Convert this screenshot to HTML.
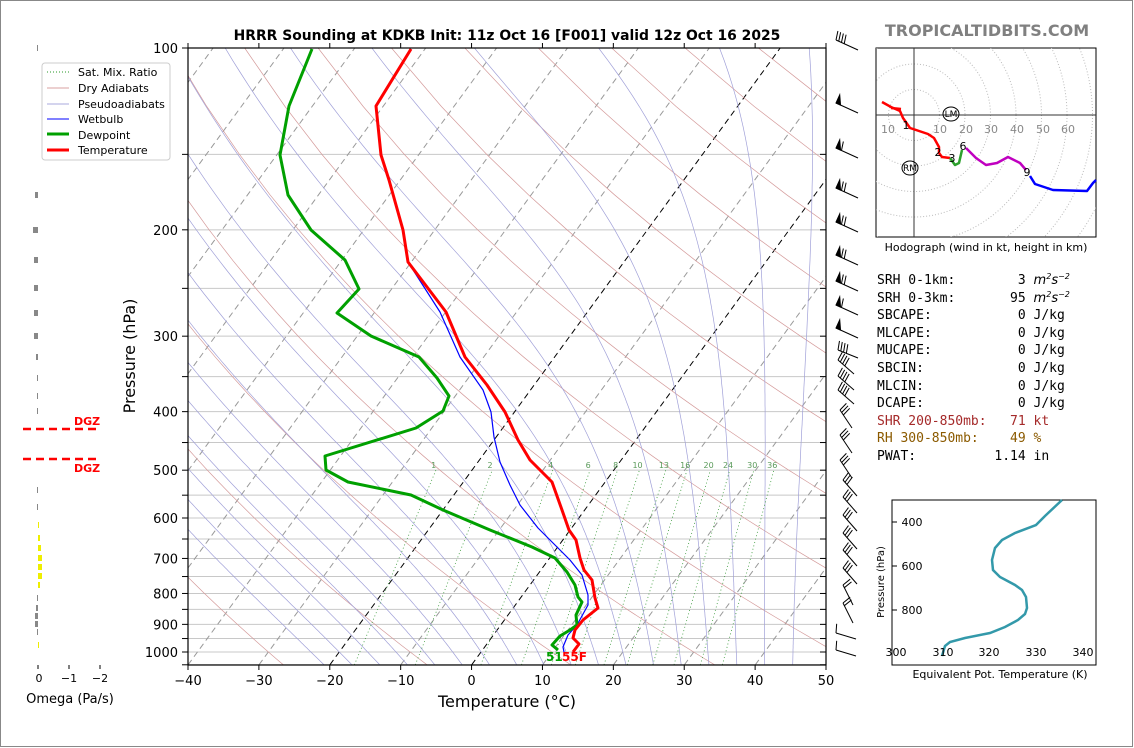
<!DOCTYPE html>
<html><head><meta charset="utf-8">
<style>
body{margin:0;background:#fff;}
#wrap{position:relative;width:1134px;height:748px;overflow:hidden;font-family:"Liberation Sans","DejaVu Sans",sans-serif;}
svg text{font-family:"DejaVu Sans","Liberation Sans",sans-serif;}
#tbl{position:absolute;left:877px;top:272px;font-family:"DejaVu Sans Mono","Liberation Mono",monospace;font-size:13px;line-height:17.6px;white-space:pre;color:#000;}
#tbl i{font-family:"DejaVu Sans",sans-serif;font-style:italic;}
#tbl sup{font-size:8px;line-height:0;vertical-align:5px;}
</style></head><body>
<div id="wrap">
<svg id="s" width="1134" height="748" viewBox="0 0 1134 748" xmlns="http://www.w3.org/2000/svg">
<rect x="0.5" y="0.5" width="1132" height="746" fill="#fff" stroke="#888"/>
<defs><clipPath id="cp"><rect x="188" y="48" width="638" height="617"/></clipPath>
<clipPath id="hc"><rect x="876" y="48" width="220" height="189"/></clipPath></defs>
<g id="bg" clip-path="url(#cp)"></g>
<g id="prof" clip-path="url(#cp)" fill="none" stroke-linejoin="round">
<polyline stroke="#0000ff" stroke-width="1.2" points="411,49 376,106 381,155 389,180 403,230 408,262 440,312 460,357 483,390 491,412 494,437 500,462 510,485 520,505 538,528 555,545 570,560 582,575 588,595 588,605 577,625 568,635 563,647 564,652"/>
<polyline stroke="#00a000" stroke-width="3" points="312,49 289,106 280,155 288,195 311,230 345,260 359,289 337,313 371,336 419,357 437,378 449,396 443,411 416,428 325,456 326,470 348,482 411,495 443,510 490,530 532,547 555,558 567,572 575,585 578,597 582,602 576,615 577,625 570,630 560,636 552,645 558,650"/>
<polyline stroke="#ff0000" stroke-width="3" points="411,49 376,106 381,155 389,180 403,230 408,262 446,312 465,357 487,385 505,412 518,440 530,460 552,482 562,510 569,530 576,540 580,558 584,570 592,580 595,598 598,608 583,620 575,630 573,638 579,644 573,652"/>
</g>
<text x="546" y="661" font-size="12" font-weight="bold" fill="#00a000">51</text>
<text x="562" y="661" font-size="12" font-weight="bold" fill="#ff0000">55F</text>
<rect x="188" y="48" width="638" height="617" fill="none" stroke="#000" stroke-width="1.2"/>
<g id="ax" font-size="13" fill="#000"></g>
<text x="507" y="40" font-size="13.9" font-weight="bold" text-anchor="middle">HRRR Sounding at KDKB Init: 11z Oct 16 [F001] valid 12z Oct 16 2025</text>
<text x="987" y="36" font-size="16" font-weight="bold" fill="#808080" text-anchor="middle">TROPICALTIDBITS.COM</text>
<text x="507" y="707" font-size="16" text-anchor="middle">Temperature (°C)</text>
<text transform="translate(135,356) rotate(-90)" font-size="16" text-anchor="middle">Pressure (hPa)</text>
<rect x="42" y="63" width="128" height="97" rx="3" fill="#fff" stroke="#ccc"/>
<g font-size="11">
<line x1="47" y1="72" x2="69" y2="72" stroke="#2a9a2a" stroke-dasharray="1,2"/><text x="78" y="76">Sat. Mix. Ratio</text>
<line x1="47" y1="88" x2="69" y2="88" stroke="#d8a0a0"/><text x="78" y="92">Dry Adiabats</text>
<line x1="47" y1="104" x2="69" y2="104" stroke="#a8a8dc"/><text x="78" y="108">Pseudoadiabats</text>
<line x1="47" y1="119" x2="69" y2="119" stroke="#0000ff"/><text x="78" y="123">Wetbulb</text>
<line x1="47" y1="134" x2="69" y2="134" stroke="#00a000" stroke-width="3"/><text x="78" y="139">Dewpoint</text>
<line x1="47" y1="150" x2="69" y2="150" stroke="#ff0000" stroke-width="3"/><text x="78" y="154">Temperature</text>
</g>
<g id="om"></g>
<line x1="23" y1="429" x2="99" y2="429" stroke="#ff0000" stroke-width="2.5" stroke-dasharray="8,5"/>
<line x1="23" y1="459" x2="99" y2="459" stroke="#ff0000" stroke-width="2.5" stroke-dasharray="8,5"/>
<text x="74" y="425" font-size="11" font-weight="bold" fill="#ff0000">DGZ</text>
<text x="74" y="472" font-size="11" font-weight="bold" fill="#ff0000">DGZ</text>
<g font-size="11" text-anchor="middle">
<line x1="38" y1="665" x2="38" y2="669" stroke="#000"/><line x1="69" y1="665" x2="69" y2="669" stroke="#000"/><line x1="100" y1="665" x2="100" y2="669" stroke="#000"/>
<text x="39" y="682">0</text><text x="69" y="682">−1</text><text x="100" y="682">−2</text>
</g>
<text x="70" y="703" font-size="13" text-anchor="middle">Omega (Pa/s)</text>
<g id="barbs" stroke="#000" stroke-width="1" fill="#000"></g>
<rect x="876" y="48" width="220" height="189" fill="#fff" stroke="#000"/>
<g id="hod" clip-path="url(#hc)"></g>
<line x1="876" y1="115" x2="1096" y2="115" stroke="#333"/>
<line x1="914" y1="48" x2="914" y2="237" stroke="#333"/>
<g font-size="11" fill="#888" text-anchor="middle">
<text x="888" y="133">10</text><text x="940" y="133">10</text><text x="966" y="133">20</text><text x="991" y="133">30</text><text x="1017" y="133">40</text><text x="1043" y="133">50</text><text x="1068" y="133">60</text>
</g>
<g fill="none" stroke-width="2.5" stroke-linejoin="round">
<polyline stroke="#ff0000" points="882,102 891,107 900,111 903,118 910,128 928,134 934,138 939,147 939,153 942,157 950,158"/>
<polyline stroke="#ff0000" points="891,108 901,109"/>
<polyline stroke="#2ca02c" points="950,158 955,165 959,163 962,150"/>
<polyline stroke="#c000c0" points="966,148 976,158 986,165 997,163 1008,157 1020,163 1026,170"/>
<polyline stroke="#0000ff" points="1030,176 1035,184 1053,190 1087,191 1093,183 1096,180"/>
</g>
<g font-size="11" text-anchor="middle">
<text x="906" y="129">1</text><text x="938" y="156">2</text><text x="952" y="162">3</text><text x="963" y="150">6</text><text x="1027" y="176">9</text>
<ellipse cx="951" cy="114" rx="8" ry="7" fill="none" stroke="#000"/><text x="951" y="117" font-size="9">LM</text>
<ellipse cx="910" cy="168" rx="8" ry="7" fill="none" stroke="#000"/><text x="910" y="171" font-size="9">RM</text>
</g>
<text x="986" y="251" font-size="11" text-anchor="middle">Hodograph (wind in kt, height in km)</text>
<rect x="892" y="500" width="204" height="165" fill="#fff" stroke="#000"/>
<polyline fill="none" stroke="#3399aa" stroke-width="2.5" points="1062,500 1045,516 1036,525 1015,533 1002,540 995,548 992,560 993,570 1000,577 1015,585 1022,590 1026,597 1027,608 1025,614 1018,620 1005,627 990,633 965,638 950,642 945,646 942,656"/>
<g font-size="11" text-anchor="middle">
<text x="896" y="656">300</text><text x="943" y="656">310</text><text x="989" y="656">320</text><text x="1036" y="656">330</text><text x="1083" y="656">340</text>
<text x="912" y="526">400</text><text x="912" y="570">600</text><text x="912" y="614">800</text>
<line x1="892" y1="522" x2="897" y2="522" stroke="#000"/><line x1="892" y1="566" x2="897" y2="566" stroke="#000"/><line x1="892" y1="610" x2="897" y2="610" stroke="#000"/>
<text x="1000" y="678">Equivalent Pot. Temperature (K)</text>
<text transform="translate(884,582) rotate(-90)" font-size="10">Pressure (hPa)</text>
</g>
</svg>
<div id="tbl">SRH 0-1km:        3 <i>m<sup>2</sup>s<sup>−2</sup></i>
SRH 0-3km:       95 <i>m<sup>2</sup>s<sup>−2</sup></i>
SBCAPE:           0 J/kg
MLCAPE:           0 J/kg
MUCAPE:           0 J/kg
SBCIN:            0 J/kg
MLCIN:            0 J/kg
DCAPE:            0 J/kg
<span style="color:#a52a2a">SHR 200-850mb:   71 kt</span>
<span style="color:#8b5a00">RH 300-850mb:    49 %</span>
PWAT:          1.14 in</div>
</div>
<script>
var NS="http://www.w3.org/2000/svg";
function el(p,t,a){var e=document.createElementNS(NS,t);for(var k in a)e.setAttribute(k,a[k]);p.appendChild(e);return e;}
function Y(p){return 48+604*Math.log10(p/100);}
function X(T,p){return 188+(T+40)*7.089+(665-Y(p))*0.73;}
var bg=document.getElementById('bg');
for(var p=100;p<=1050;p+=50){el(bg,'line',{x1:188,x2:826,y1:Y(p),y2:Y(p),stroke:'#c8c8c8','stroke-width':1});}
function path(pts,attrs){var d='';pts.forEach(function(q,i){d+=(i?'L':'M')+q[0].toFixed(1)+','+q[1].toFixed(1);});attrs.d=d;attrs.fill='none';el(bg,'path',attrs);}
for(var T=-120;T<=50;T+=10){var a={stroke:(T==0||T==-20)?'#000':'#999','stroke-width':1,'stroke-dasharray':'6,4'};path([[X(T,1050),Y(1050)],[X(T,100),Y(100)]],a);}
for(var th=-30;th<=250;th+=20){var pts=[];for(var p=1050;p>=100;p-=25){var TT=(th+273.15)*Math.pow(p/1000,0.286)-273.15;pts.push([X(TT,p),Y(p)]);}path(pts,{stroke:'#d49a9a','stroke-width':0.7});}
function es(T){return 6.112*Math.exp(17.67*T/(T+243.5));}
function step(T,pp,dp){var Tk=T+273.15;var rs=0.622*es(T)/(pp-es(T));var g=(287*Tk+2.5e6*rs)/(1004+2.5e6*2.5e6*rs*0.622/(287*Tk*Tk))/pp;return T+g*dp;}
for(var T0=-24;T0<=44;T0+=4){var pts=[];var T=T0;
 var Tb=T0;for(var q=1000;q<1050;q+=5){Tb=step(Tb,q,5);} pts.push([X(Tb,1050),Y(1050)]);
 for(var q=1000;q>=100;q-=5){pts.push([X(T,q),Y(q)]);T=step(T,q,-5);}
 path(pts,{stroke:'#a0a0d8','stroke-width':0.7});}
var ws=[1,2,4,6,8,10,13,16,20,24,30,36];
function Td(w,p){var e=w*p/(622+w);var l=Math.log(e/6.112);return 243.5*l/(17.67-l);}
ws.forEach(function(w){path([[X(Td(w,1050),1050),Y(1050)],[X(Td(w,500),500),Y(500)]],{stroke:'#3a9a3a','stroke-width':0.8,'stroke-dasharray':'1,2.5'});
 var t=el(bg,'text',{x:X(Td(w,510),510),y:468,'font-size':8,fill:'#5a9a5a','text-anchor':'middle'});t.textContent=w;});
var ax=document.getElementById('ax');
[100,200,300,400,500,600,700,800,900,1000].forEach(function(p){var t=el(ax,'text',{x:178,y:Y(p)+5,'text-anchor':'end'});t.textContent=p;});
for(var p=100;p<=1050;p+=50){el(ax,'line',{x1:182,x2:188,y1:Y(p),y2:Y(p),stroke:'#000'});el(ax,'line',{x1:820,x2:826,y1:Y(p),y2:Y(p),stroke:'#000'});}
for(var T=-40;T<=50;T+=10){var x=188+(T+40)*7.089;el(ax,'line',{x1:x,x2:x,y1:665,y2:670,stroke:'#000'});el(ax,'line',{x1:x,x2:x,y1:48,y2:43,stroke:'#000'});var t=el(ax,'text',{x:x,y:685,'text-anchor':'middle'});t.textContent=(T<0?'−'+(-T):T);}
var om=document.getElementById('om');
[[48,1,'#888'],[195,3,'#888'],[230,5,'#888'],[260,4,'#888'],[288,4,'#888'],[313,4,'#888'],[336,4,'#888'],[357,2,'#888'],[378,1,'#888'],[396,1,'#888'],[411,1,'#888'],[490,1,'#888'],[507,1,'#888'],[525,1,'#ee0'],[538,2,'#ee0'],[548,3,'#ee0'],[558,4,'#ee0'],[567,4,'#ee0'],[576,4,'#ee0'],[585,2,'#ee0'],[598,1,'#888'],[608,2,'#888'],[616,3,'#888'],[624,3,'#888'],[632,1,'#888'],[645,1,'#ee0']].forEach(function(o){var x=o[2]=='#ee0'?38:38-o[1];el(om,'rect',{x:x,y:o[0]-3,width:o[1],height:6,fill:o[2]});});
var b=document.getElementById('barbs');
function barb(x,y,dx,dy,n,flag){el(b,'line',{x1:x,y1:y,x2:x+dx,y2:y+dy});var L=Math.hypot(dx,dy),ux=dx/L,uy=dy/L;var px=-uy,py=ux;var s=0;
 if(flag){el(b,'polygon',{points:x+','+y+' '+(x+ux*5)+','+(y+uy*5)+' '+(x+px*-9)+','+(y+py*-9)});s=6;}
 for(var i=0;i<n;i++){var bx=x+ux*(s+i*3),by=y+uy*(s+i*3);el(b,'line',{x1:bx,y1:by,x2:bx-px*9-ux*2,y2:by-py*9-uy*2});}}
[[40,0,4],[103,1,0],[148,1,1],[188,1,2],[222,1,2],[255,1,2],[281,1,2],[305,1,1],[328,1,0]].forEach(function(a){barb(836,a[0],22,10,a[2],a[1]);});
barb(838,350,20,8,4,0);
[360,376,390].forEach(function(y){barb(838,y,16,14,4,0);});
[410,435,460].forEach(function(y){barb(840,y,12,18,3,0);});
[480,497,515,533,550,568].forEach(function(y){barb(843,y,14,16,3,0);});
[585,603].forEach(function(y){barb(843,y,10,20,2,0);});
barb(836,633,20,6,1,0);barb(836,650,20,6,1,0);
var h=document.getElementById('hod');
for(var r=10;r<=90;r+=10){el(h,'circle',{cx:914,cy:115,r:r*2.55,fill:'none',stroke:'#bbb','stroke-dasharray':'1,2'});}
</script>
</body></html>
